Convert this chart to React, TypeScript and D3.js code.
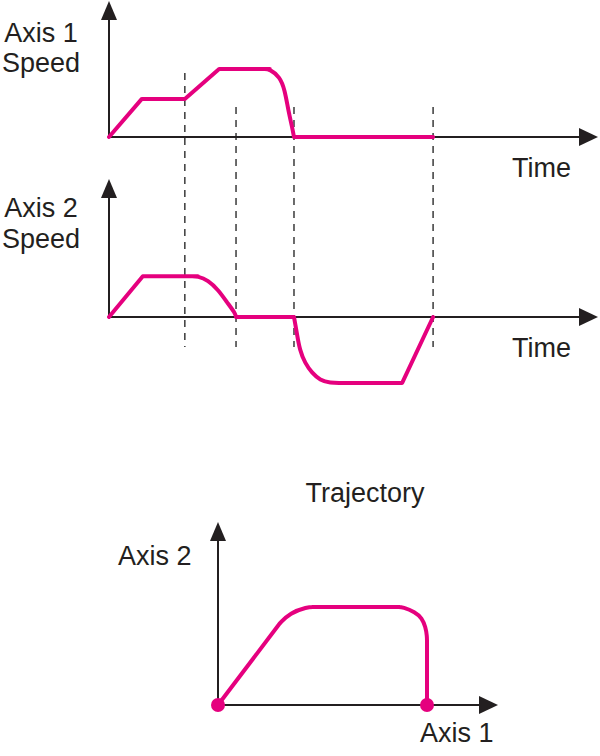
import React, { useEffect, useRef } from 'react';
import * as d3 from 'd3';

type Pt = [number, number];

// axis 1 speed profile (time, speed); linear ramps, then a smooth decel
const axis1Ramp: Pt[] = [[0, 0], [0.68, 0.56], [1.57, 0.56], [2.28, 1.0], [3.33, 1.0]];
const axis1Decel: Pt[] = [[3.2, 1.0], [3.33, 1.0], [3.54, 0.88], [3.64, 0.69], [3.71, 0.4], [3.79, 0.15], [3.83, 0]];
const axis1Idle: Pt[] = [[3.83, 0], [6.71, 0]];

// axis 2 speed profile
const axis2Ramp: Pt[] = [[0, 0], [0.7, 0.6], [1.84, 0.6]];
const axis2Decel: Pt[] = [[1.7, 0.6], [1.84, 0.6], [2.05, 0.54], [2.26, 0.4], [2.44, 0.22], [2.61, 0.06], [2.63, 0]];
const axis2Idle: Pt[] = [[2.63, 0], [3.83, 0]];
const axis2Reverse: Pt[] = [[3.83, 0], [3.86, -0.12], [3.89, -0.24], [3.95, -0.49], [4.06, -0.68], [4.2, -0.82], [4.37, -0.93], [4.58, -0.97], [4.8, -0.97]];
const axis2Hold: Pt[] = [[4.7, -0.97], [6.07, -0.97], [6.71, 0]];

// time marks shared by both speed plots
const eventTimes = [1.57, 2.63, 3.83, 6.71];

// trajectory in the axis1/axis2 plane
const trajRamp: Pt[] = [[0, 0], [0.297, 0.392]];
const trajBendIn: Pt[] = [[0.29, 0.383], [0.297, 0.392], [0.344, 0.44], [0.426, 0.469], [0.46, 0.469]];
const trajFlat: Pt[] = [[0.45, 0.469], [0.87, 0.469]];
const trajBendOut: Pt[] = [[0.86, 0.469], [0.885, 0.469], [0.943, 0.445], [0.976, 0.416], [0.993, 0.373], [1.0, 0.33], [1.0, 0.3]];
const trajDrop: Pt[] = [[1.0, 0.31], [1.0, 0]];
const trajEnds: Pt[] = [[0, 0], [1.0, 0]];

const width = 600;
const height = 756;
const pink = '#e5007e';
const ink = '#231f20';
const font = '"Liberation Sans", Arial, sans-serif';

const App: React.FC = () => {
    const svgRef = useRef<SVGSVGElement | null>(null);

    useEffect(() => {
        const svg = d3.select(svgRef.current);
        svg.selectAll('*').remove();

        const x = d3.scaleLinear().domain([0, 10]).range([109, 592]);
        const y1 = d3.scaleLinear().domain([0, 1]).range([137, 69]);
        const y2 = d3.scaleLinear().domain([0, 1]).range([317, 249]);
        const tx = d3.scaleLinear().domain([0, 1]).range([218, 427]);
        const ty = d3.scaleLinear().domain([0, 1]).range([705, 496]);

        const arrowUp = (cx: number, tip: number) =>
            `M${cx},${tip}L${cx - 8},${tip + 19}L${cx + 8},${tip + 19}Z`;
        const arrowRight = (tip: number, cy: number) =>
            `M${tip},${cy}L${tip - 19},${cy - 9}L${tip - 19},${cy + 9}Z`;

        const axes = (ox: number, oy: number, top: number, right: number) => {
            const g = svg.append('g');
            g.append('line').attr('x1', ox).attr('y1', oy).attr('x2', ox).attr('y2', top + 10)
                .attr('stroke', ink).attr('stroke-width', 2);
            g.append('line').attr('x1', ox).attr('y1', oy).attr('x2', right - 10).attr('y2', oy)
                .attr('stroke', ink).attr('stroke-width', 2);
            g.append('path').attr('d', arrowUp(ox, top)).attr('fill', ink);
            g.append('path').attr('d', arrowRight(right, oy)).attr('fill', ink);
        };

        // dashed event markers
        eventTimes.forEach((t, i) => {
            svg.append('line')
                .attr('x1', x(t)).attr('x2', x(t))
                .attr('y1', i === 0 ? 73 : 107).attr('y2', 347)
                .attr('stroke', '#3a3a3a')
                .attr('stroke-width', 1.5)
                .attr('stroke-dasharray', '7 6');
        });

        axes(x(0), y1(0), 1, 598);
        axes(x(0), y2(0), 179, 598);
        axes(tx(0), ty(0), 522, 498);

        const plot = (pieces: [Pt[], boolean][], sx: d3.ScaleLinear<number, number>, sy: d3.ScaleLinear<number, number>) => {
            const straight = d3.line<Pt>().x(d => sx(d[0])).y(d => sy(d[1]));
            const smooth = d3.line<Pt>().x(d => sx(d[0])).y(d => sy(d[1])).curve(d3.curveBasis);
            const d = pieces.map(([pts, curved]) => (curved ? smooth(pts) : straight(pts))).join('');
            svg.append('path')
                .attr('d', d)
                .attr('fill', 'none')
                .attr('stroke', pink)
                .attr('stroke-width', 4)
                .attr('stroke-linejoin', 'round')
                .attr('stroke-linecap', 'round');
        };

        plot([[axis1Ramp, false], [axis1Decel, true], [axis1Idle, false]], x, y1);
        plot([[axis2Ramp, false], [axis2Decel, true], [axis2Idle, false], [axis2Reverse, true], [axis2Hold, false]], x, y2);
        plot([[trajRamp, false], [trajBendIn, true], [trajFlat, false], [trajBendOut, true], [trajDrop, false]], tx, ty);

        svg.selectAll('circle.end')
            .data(trajEnds)
            .join('circle')
            .attr('class', 'end')
            .attr('cx', d => tx(d[0]))
            .attr('cy', d => ty(d[1]))
            .attr('r', 7)
            .attr('fill', pink);

        const label = (txt: string, lx: number, ly: number, anchor = 'start') => {
            svg.append('text')
                .attr('x', lx).attr('y', ly)
                .attr('text-anchor', anchor)
                .attr('font-family', font)
                .attr('font-size', 27)
                .attr('fill', ink)
                .text(txt);
        };

        label('Axis 1', 41, 42, 'middle');
        label('Speed', 41, 72, 'middle');
        label('Time', 512, 177);
        label('Axis 2', 41, 217, 'middle');
        label('Speed', 41, 248, 'middle');
        label('Time', 512, 357);
        label('Trajectory', 365, 502, 'middle');
        label('Axis 2', 118, 565);
        label('Axis 1', 420, 742);
    }, []);

    return (
        <svg
            ref={svgRef}
            width={width}
            height={height}
            viewBox={`0 0 ${width} ${height}`}
            style={{ position: 'absolute', left: 0, top: 0, background: '#fff' }}
        />
    );
};

export default App;
